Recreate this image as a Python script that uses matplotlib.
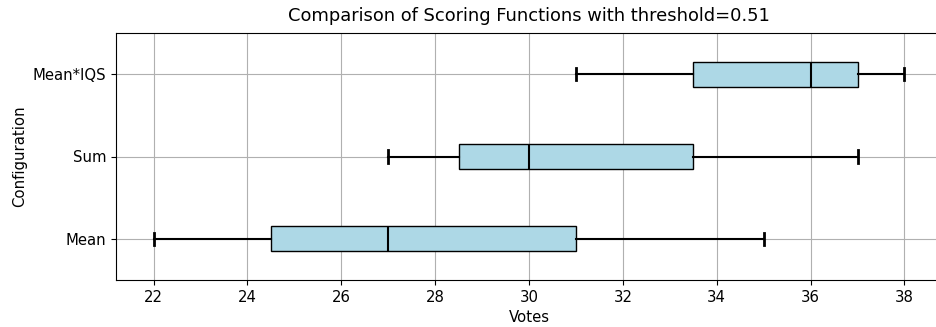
import matplotlib
matplotlib.use('Agg')
import matplotlib.pyplot as plt

configs = ['Mean', 'Sum', 'Mean*IQS']
whislo = [22, 27, 31]
q1 = [24.5, 28.5, 33.5]
med = [27, 30, 36]
q3 = [31, 33.5, 37]
whishi = [35, 37, 38]

stats = []
for name, lo, a, m, b, hi in zip(configs, whislo, q1, med, q3, whishi):
    stats.append({'label': name, 'whislo': lo, 'q1': a, 'med': m, 'q3': b,
                  'whishi': hi, 'fliers': []})

plt.rcParams['font.size'] = 10.7

fig = plt.figure(figsize=(9.37, 3.27), dpi=100)
ax = fig.add_axes([116/937, 47/327, 826/937, 247/327])
ax.bxp(stats, vert=False, widths=0.3, patch_artist=True,
       boxprops=dict(facecolor='lightblue', edgecolor='black', linewidth=1),
       medianprops=dict(color='black', linewidth=1.5),
       whiskerprops=dict(color='black', linewidth=1.5),
       capprops=dict(color='black', linewidth=2))
ax.set_xlim(21.2, 38.8)
ax.set_xticks(range(22, 39, 2))
ax.grid(True)
ax.set_axisbelow(True)
ax.set_xlabel('Votes')
ax.set_ylabel('Configuration')
ax.set_title('Comparison of Scoring Functions with threshold=0.51', fontsize=12.9, pad=8.5)
fig.savefig('out.png', dpi=100)
